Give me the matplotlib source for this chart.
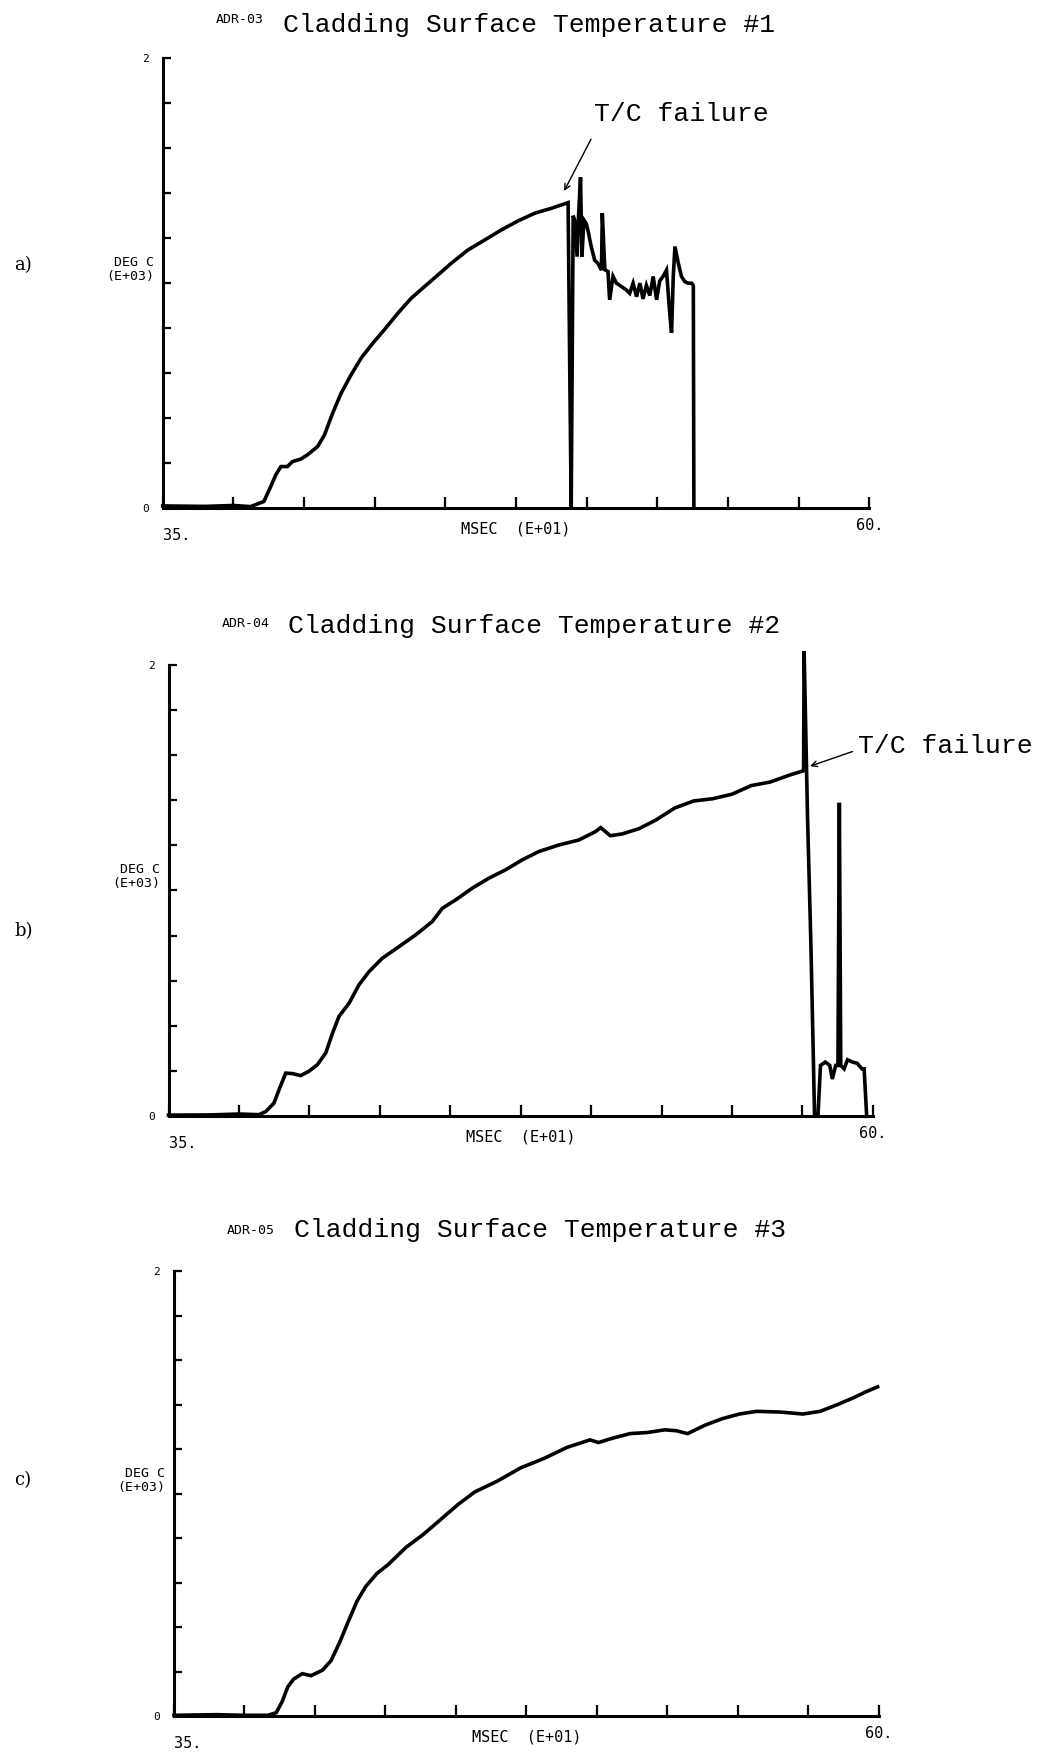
import matplotlib.pyplot as plt
import matplotlib.transforms as mtransforms
import numpy as np

# ---- data (x: msec E+01, y: deg C E+03)
t_a = [35.0, 36.5, 37.5, 38.11, 38.58, 38.82, 39.0, 39.18, 39.41, 39.59, 39.88, 40.12, 40.48,
       40.72, 41.01, 41.31, 41.66, 42.02, 42.43, 42.84, 43.32, 43.79, 44.26, 44.74, 45.21,
       45.8, 46.39, 46.98, 47.57, 48.16, 48.75, 49.34, 49.4, 49.45, 49.52, 49.57, 49.66,
       49.71, 49.78, 49.83, 49.9, 49.98, 50.04, 50.16, 50.28, 50.4, 50.52, 50.55, 50.64,
       50.75, 50.81, 50.93, 51.05, 51.23, 51.4, 51.52, 51.64, 51.76, 51.88, 51.99, 52.11,
       52.23, 52.35, 52.47, 52.58, 52.7, 52.82, 52.94, 53.0, 53.06, 53.12, 53.24, 53.35,
       53.47, 53.59, 53.71, 53.77, 53.79]
T_a = [0.01, 0.008, 0.012, 0.007, 0.03, 0.096, 0.148, 0.185, 0.185, 0.207, 0.218, 0.237, 0.274,
       0.325, 0.422, 0.511, 0.592, 0.667, 0.733, 0.793, 0.867, 0.933, 0.985, 1.037, 1.089,
       1.148, 1.192, 1.237, 1.277, 1.311, 1.333, 1.358, 0.6, 0.0, 1.30, 1.281, 1.118,
       1.3, 1.471, 1.118, 1.281, 1.266, 1.236, 1.162, 1.102, 1.087, 1.058, 1.311, 1.06,
       1.052, 0.926, 1.03, 1.0, 0.985, 0.97, 0.955, 1.0, 0.94, 1.0, 0.93, 0.99,
       0.945, 1.03, 0.926, 1.01, 1.03, 1.058, 0.86, 0.78, 1.03, 1.163, 1.088, 1.03,
       1.007, 1.0, 1.0, 0.99, 0.0]

t_b = [35.0, 36.5, 37.5, 38.21, 38.45, 38.74, 38.92, 39.16, 39.4, 39.69, 39.99, 40.28, 40.58,
       40.82, 41.05, 41.41, 41.76, 42.12, 42.59, 43.18, 43.77, 44.36, 44.72, 45.19, 45.78,
       46.37, 46.96, 47.55, 48.14, 48.85, 49.56, 50.15, 50.34, 50.68, 51.1, 51.69, 52.29,
       52.97, 53.64, 54.32, 55.0, 55.68, 56.36, 57.03, 57.54, 57.56, 57.68, 57.8, 57.88,
       57.93, 58.05, 58.14, 58.31, 58.47, 58.56, 58.68, 58.76, 58.81, 58.86, 58.98, 59.1,
       59.27, 59.44, 59.61, 59.69, 59.78]
T_b = [0.005, 0.006, 0.01, 0.007, 0.021, 0.058, 0.117, 0.191, 0.189, 0.18, 0.2, 0.228, 0.28,
       0.368, 0.442, 0.501, 0.582, 0.641, 0.7, 0.751, 0.803, 0.862, 0.921, 0.958, 1.01,
       1.054, 1.091, 1.135, 1.172, 1.201, 1.223, 1.26, 1.278, 1.242, 1.25, 1.273, 1.311,
       1.365, 1.396, 1.406, 1.426, 1.464, 1.48, 1.51, 1.53, 2.06, 1.327, 0.76, 0.30,
       0.0, 0.0, 0.225, 0.24, 0.225, 0.165, 0.225, 0.225, 1.388, 0.225, 0.21, 0.25,
       0.24, 0.235, 0.21, 0.21, 0.0]

t_c = [35.0, 36.5, 37.5, 38.33, 38.63, 38.84, 39.04, 39.24, 39.55, 39.86, 40.27, 40.57, 40.88,
       41.18, 41.49, 41.8, 42.2, 42.61, 43.22, 43.84, 44.45, 45.06, 45.67, 46.49, 47.31,
       48.12, 48.94, 49.76, 50.06, 50.57, 51.18, 51.8, 52.41, 52.82, 53.22, 53.84, 54.45,
       55.06, 55.67, 56.49, 57.31, 57.92, 58.53, 59.14, 59.55, 59.96]
T_c = [0.005, 0.008, 0.005, 0.005, 0.017, 0.067, 0.133, 0.167, 0.192, 0.183, 0.208, 0.25, 0.333,
       0.425, 0.517, 0.583, 0.642, 0.683, 0.758, 0.817, 0.883, 0.95, 1.008, 1.058, 1.117,
       1.158, 1.208, 1.242, 1.23, 1.25, 1.27, 1.275, 1.287, 1.283, 1.27, 1.308, 1.337,
       1.358, 1.37, 1.367, 1.358, 1.37, 1.40, 1.433, 1.458, 1.48]

xticks = np.arange(35, 60.01, 2.5)
yticks = np.arange(0, 2.01, 0.2)
xlabels = ['35.'] + [''] * 9 + ['60.']
ylabels = ['0'] + [''] * 9 + ['2']

panels = [
    dict(t=t_a, T=T_a, tag='ADR-03', title='Cladding Surface Temperature #1', letter='a)',
         rect=[0.1563, 0.7111, 0.6789, 0.2558], title_y=1.073, tag_y=1.085, letter_y=0.54,
         arrow=((49.2, 1.41), (50.15, 1.64)), note=(50.26, 1.75)),
    dict(t=t_b, T=T_b, tag='ADR-04', title='Cladding Surface Temperature #2', letter='b)',
         rect=[0.1619, 0.3654, 0.6766, 0.2568], title_y=1.085, tag_y=1.09, letter_y=0.41,
         arrow=((57.77, 1.55), (59.28, 1.615)), note=(59.47, 1.64)),
    dict(t=t_c, T=T_c, tag='ADR-05', title='Cladding Surface Temperature #3', letter='c)',
         rect=[0.1671, 0.0242, 0.6770, 0.2532], title_y=1.093, tag_y=1.09, letter_y=0.53,
         arrow=None, note=None),
]

mono = 'DejaVu Sans Mono'
serif_mono = 'Liberation Mono'

fig = plt.figure(figsize=(10.41, 17.59), dpi=100)
fig.patch.set_facecolor('white')

for p in panels:
    ax = fig.add_axes(p['rect'])
    ax.plot(p['t'], p['T'], color='black', lw=2.6, clip_on=False, solid_joinstyle='miter')
    ax.set_xlim(35, 60)
    ax.set_ylim(0, 2)

    for s in ['top', 'right']:
        ax.spines[s].set_visible(False)
    for s in ['left', 'bottom']:
        ax.spines[s].set_linewidth(2.2)

    ax.set_xticks(xticks)
    ax.set_xticklabels(xlabels, fontfamily=mono, fontsize=11)
    ax.set_yticks(yticks)
    ax.set_yticklabels(ylabels, fontfamily=mono, fontsize=8)
    ax.tick_params(axis='x', direction='in', length=8, width=1.6, pad=14)
    ax.tick_params(axis='y', direction='in', length=6, width=1.6, pad=10)
    xl = ax.get_xticklabels()
    xl[0].set_ha('left')
    xl[-1].set_ha('center')
    # the "60." label sits a little higher than "35."
    up = mtransforms.ScaledTranslation(0, 7 / 72, fig.dpi_scale_trans)
    xl[-1].set_transform(xl[-1].get_transform() + up)

    ax.annotate('MSEC  (E+01)', xy=(0.5, 0), xycoords='axes fraction',
                xytext=(0, -15), textcoords='offset points', ha='center', va='center',
                fontfamily=mono, fontsize=11)

    ax.text(-0.012, 0.5, 'DEG C\n(E+03)', transform=ax.transAxes, ha='right', va='bottom',
            fontfamily=mono, fontsize=9.5, linespacing=1.1)

    fig.text(0.014, p['rect'][1] + p['letter_y'] * p['rect'][3], p['letter'],
             ha='left', va='center', fontfamily='DejaVu Serif', fontsize=13)

    ax.text(0.075, p['tag_y'], p['tag'], transform=ax.transAxes, ha='left', va='center',
            fontfamily=mono, fontsize=9.5)
    ax.text(0.17, p['title_y'], p['title'], transform=ax.transAxes, ha='left', va='center',
            fontfamily=serif_mono, fontsize=19)

    if p['arrow'] is not None:
        head, tail = p['arrow']
        ax.annotate('', xy=head, xytext=tail,
                    arrowprops=dict(arrowstyle='->', color='black', lw=1.0,
                                    shrinkA=0, shrinkB=0))
        ax.text(p['note'][0], p['note'][1], 'T/C failure', ha='left', va='center',
                fontfamily=serif_mono, fontsize=19, clip_on=False)

fig.savefig('out.png', dpi=100, facecolor='white')
